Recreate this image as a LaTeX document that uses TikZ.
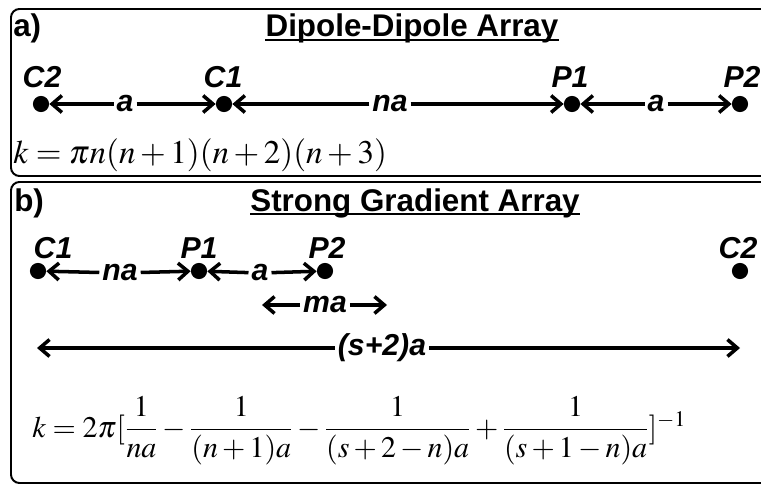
\documentclass[tikz,border=0pt]{standalone}
\usepackage{amsmath}
\usepackage{mathptmx}
\usepackage[no-math]{fontspec}
\setsansfont{Liberation Sans}
\usetikzlibrary{arrows.meta, positioning}

\begin{document}
\begin{tikzpicture}[x=0.025cm, y=-0.025cm,
    frame/.style={line width=1.4pt, rounded corners=6pt},
    dot/.style={circle, fill=black, inner sep=0pt, minimum size=11.5pt},
    lbl/.style={font=\sffamily\bfseries\itshape\fontsize{21.5}{25}\selectfont, inner sep=2pt},
    ttl/.style={font=\sffamily\bfseries\fontsize{22.3}{26}\selectfont, inner sep=0pt},
    eqn/.style={font=\fontsize{21}{25}\selectfont, inner sep=0pt},
    arr/.style={line width=2.5pt, -{Straight Barb[length=7pt, width=12pt]}}]
                \useasboundingbox (0,0) rectangle (761,485);
                \clip (0,0) rectangle (761,485);
                % frames, open to the right
                \draw[frame] (790,9) -- (11,9) -- (11,176) -- (790,176);
                \draw[frame] (790,182) -- (11,182) -- (11,483) -- (790,483);
                % a) dipole-dipole
                \node[ttl, anchor=base west] (pa) at (13,37) {a)};
                \node[ttl, anchor=base] (ta) at (412,37) {Dipole-Dipole Array};
                \draw[line width=1.4pt] ([yshift=-2pt]ta.base west) -- ([yshift=-2pt]ta.base east);
                \node[dot] (aC2) at (41,104) {};
                \node[dot] (aC1) at (224,104) {};
                \node[dot] (aP1) at (572,104) {};
                \node[dot] (aP2) at (740,104) {};
                \node[lbl, anchor=base] (naC2) at (42,88) {C2};
                \node[lbl, anchor=base] (naC1) at (223,88) {C1};
                \node[lbl, anchor=base] (naP1) at (570,88) {P1};
                \node[lbl, anchor=base] (naP2) at (742,88) {P2};
                \node[lbl] (da1) at (125,104) {a};
                \node[lbl] (dna) at (390,104) {na};
                \node[lbl] (da2) at (656,104) {a};
                \draw[arr] (da1) -- (aC2);
                \draw[arr] (da1) -- (aC1);
                \draw[arr] (dna) -- (aC1);
                \draw[arr] (dna) -- (aP1);
                \draw[arr] (da2) -- (aP1);
                \draw[arr] (da2) -- (aP2);
                \node[eqn, font=\fontsize{23.5}{28}\selectfont, anchor=base west] (ka) at (13,163) {$k=\pi n(n+1)(n+2)(n+3)$};
                % b) strong gradient
                \node[ttl, anchor=base west] (pb) at (14,211) {b)};
                \node[ttl, anchor=base] (tb) at (415,211) {Strong Gradient Array};
                \draw[line width=1.4pt] ([yshift=-2pt]tb.base west) -- ([yshift=-2pt]tb.base east);
                \node[dot] (bC1) at (38,271) {};
                \node[dot] (bP1) at (199,271) {};
                \node[dot] (bP2) at (325,271) {};
                \node[dot] (bC2) at (740,271) {};
                \node[lbl, anchor=base] (nbC1) at (53,258) {C1};
                \node[lbl, anchor=base] (nbP1) at (199,258) {P1};
                \node[lbl, anchor=base] (nbP2) at (327,258) {P2};
                \node[lbl, anchor=base] (nbC2) at (738,258) {C2};
                \node[lbl] (dnb) at (120,273) {na};
                \node[lbl] (db) at (260,273) {a};
                \draw[arr] (dnb) -- (bC1);
                \draw[arr] (dnb) -- (bP1);
                \draw[arr] (db) -- (bP1);
                \draw[arr] (db) -- (bP2);
                \coordinate (mL) at (262,305);
                \coordinate (mR) at (387,305);
                \node[lbl] (dma) at (325,305) {ma};
                \draw[arr] (dma) -- (mL);
                \draw[arr] (dma) -- (mR);
                \coordinate (sL) at (37,348);
                \coordinate (sR) at (740,348);
                \node[lbl] (ds) at (382,348) {(s+2)a};
                \draw[arr] (ds) -- (sL);
                \draw[arr] (ds) -- (sR);
                \node[eqn, font=\fontsize{21.3}{25}\selectfont, anchor=base west] (kb) at (32,437) {$k=2\pi[\dfrac{1}{na}-\dfrac{1}{(n+1)a}-\dfrac{1}{(s+2-n)a}+\dfrac{1}{(s+1-n)a}]^{-1}$};
            \end{tikzpicture}
\end{document}
